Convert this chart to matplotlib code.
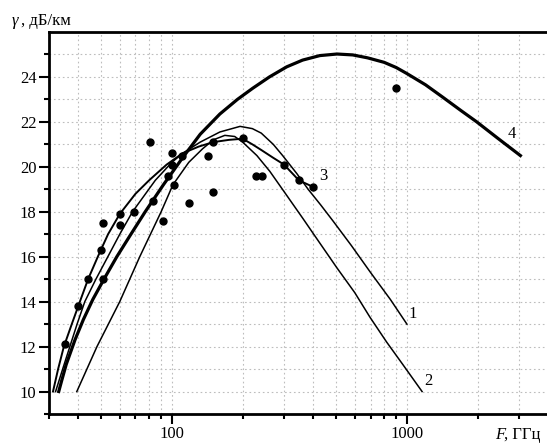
import numpy as np
import matplotlib.pyplot as plt
from matplotlib.ticker import FixedLocator, NullFormatter

# ==========================================
# DATA
# ==========================================

pts_f = [35, 40, 44, 50, 51, 51, 60, 60, 69, 81, 83, 92, 96, 100, 100,
         102, 110, 118, 142, 150, 150, 200, 228, 242, 300, 347, 400, 900]
pts_g = [12.1, 13.8, 15.0, 16.3, 17.5, 15.0, 17.9, 17.4, 18.0, 21.1, 18.5,
         17.6, 19.6, 20.6, 20.1, 19.2, 20.5, 18.4, 20.5, 21.1, 18.9, 21.3,
         19.6, 19.6, 20.1, 19.4, 19.1, 23.5]

c1_f = [32, 34.3, 36.8, 39.5, 42.6, 47.5, 53.4, 60, 68, 85, 100, 111, 132,
        160, 195, 220, 240, 270, 296, 340, 380, 430, 484, 580, 700, 850, 1000]
c1_g = [10, 11, 12, 13, 14, 15, 16, 17, 18, 19.4, 20.2, 20.6, 21.1,
        21.55, 21.8, 21.7, 21.5, 21.0, 20.5, 19.7, 19.0, 18.3, 17.6, 16.5,
        15.3, 14.1, 13.0]

c2_f = [39.4, 48, 60, 73, 90, 101, 118, 135, 150, 168, 185, 200, 230, 261,
        300, 361, 420, 504, 600, 697, 820, 961, 1160]
c2_g = [10, 12, 14, 16, 18, 19.2, 20.2, 20.8, 21.2, 21.4, 21.35, 21.1, 20.5,
        19.8, 18.9, 17.7, 16.7, 15.5, 14.4, 13.3, 12.2, 11.2, 10]

c3_f = [31.2, 32.8, 34.7, 37.5, 40.6, 44, 48.4, 53.5, 60, 70, 80, 95, 111,
        130, 150, 175, 200, 220, 240, 270, 300, 347, 400]
c3_g = [10, 11, 12, 13, 14, 15, 16, 17, 17.9, 18.8, 19.4, 20.1, 20.6,
        20.9, 21.1, 21.2, 21.25, 21.0, 20.75, 20.4, 20.1, 19.4, 19.1]

c4_f = [33, 34, 35.5, 38.7, 42, 46.1, 51.4, 58.3, 66, 77, 92, 111, 132, 160,
        190, 221, 260, 308, 360, 426, 504, 588, 680, 800, 900, 1000, 1200,
        1420, 1700, 1982, 2450, 3040]
c4_g = [10, 10.5, 11.2, 12.3, 13.2, 14.1, 15.0, 16.0, 16.9, 18.0, 19.2, 20.4,
        21.45, 22.35, 23.0, 23.5, 24.0, 24.45, 24.75, 24.95, 25.02, 24.98,
        24.85, 24.65, 24.42, 24.15, 23.65, 23.1, 22.5, 22.0, 21.25, 20.5]

curve_labels = ["1", "2", "3", "4"]
label_f = [1061, 1228, 439, 2798]
label_g = [13.47, 10.49, 19.6, 21.47]

y_major = [10, 12, 14, 16, 18, 20, 22, 24]
x_major = [100, 1000]
x_minor = [30, 40, 50, 60, 70, 80, 90, 200, 300, 400, 500, 600, 700, 800, 900, 2000, 3000]

# ==========================================
# PLOT
# ==========================================

plt.rcParams["font.family"] = ["Liberation Serif", "DejaVu Serif"]

fig = plt.figure(figsize=(5.47, 4.43), dpi=100)
ax = fig.add_axes([49 / 547, 29 / 443, 1 - 49 / 547, (414 - 32) / 443])

ax.set_xscale("log")
ax.set_xlim(30, 3945)
ax.set_ylim(9, 26)

grid_kw = dict(color="#bdbdbd", linewidth=0.8, linestyle=(0, (1.5, 2.5)), zorder=0)
for v in x_major + x_minor:
    ax.axvline(v, **grid_kw)
for v in range(10, 26):
    ax.axhline(v, **grid_kw)

ax.plot(c1_f, c1_g, color="black", linewidth=1.1, zorder=3)
ax.plot(c2_f, c2_g, color="black", linewidth=1.1, zorder=3)
ax.plot(c3_f, c3_g, color="black", linewidth=1.4, zorder=3)
ax.plot(c4_f, c4_g, color="black", linewidth=2.3, zorder=3,
        solid_joinstyle="round")

ax.plot(pts_f, pts_g, linestyle="none", marker="o", markersize=5,
        color="black", zorder=4)

for t, f, g in zip(curve_labels, label_f, label_g):
    ax.text(f, g, t, fontsize=12, ha="center", va="center", color="black")

ax.xaxis.set_major_locator(FixedLocator(x_major))
ax.xaxis.set_minor_locator(FixedLocator(x_minor))
ax.xaxis.set_minor_formatter(NullFormatter())
ax.set_xticklabels([str(v) for v in x_major])
ax.yaxis.set_major_locator(FixedLocator(y_major))
ax.yaxis.set_minor_locator(FixedLocator(list(range(9, 26, 2))))

ax.tick_params(which="major", direction="out", length=7, width=1.5,
               labelsize=12, pad=2)
ax.tick_params(which="minor", direction="out", length=3.6, width=1.5)

for s in ["left", "bottom", "top"]:
    ax.spines[s].set_linewidth(2)
ax.spines["right"].set_visible(False)

fig.text(12 / 547, 1 - 21 / 443, "γ", fontsize=12, style="italic",
         ha="left", va="center")
fig.text(21 / 547, 1 - 21 / 443, ", дБ/км", fontsize=12,
         ha="left", va="center")
fig.text(495 / 547, 1 - 435 / 443, "F", fontsize=12, style="italic",
         ha="left", va="center")
fig.text(504 / 547, 1 - 435 / 443, ", ГГц", fontsize=12,
         ha="left", va="center")

plt.savefig("out.png", dpi=100)
